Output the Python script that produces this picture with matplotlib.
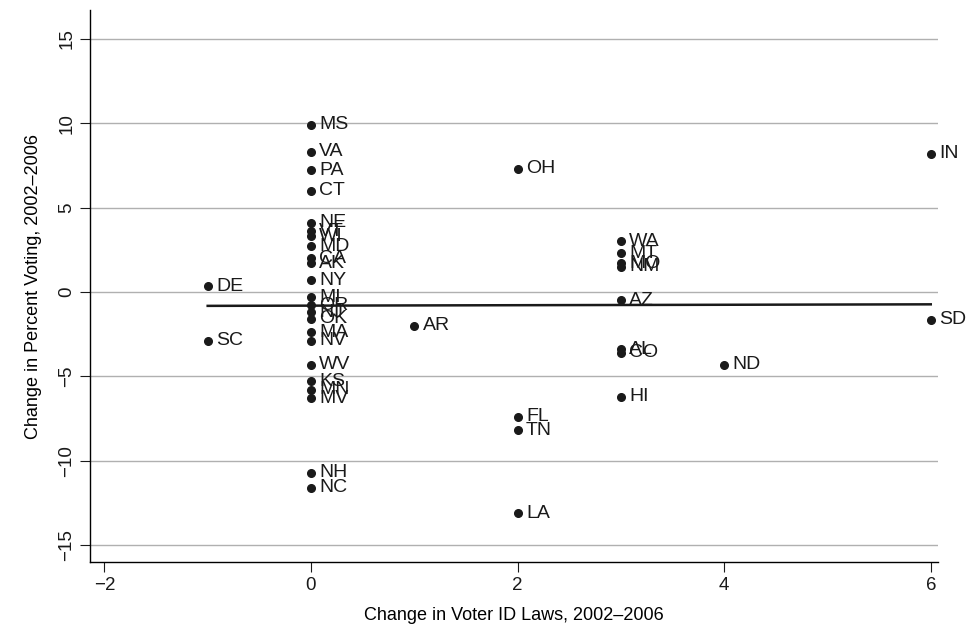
import numpy as np
import matplotlib
matplotlib.use("Agg")
import matplotlib.pyplot as plt

plt.rcParams['font.family'] = ['Liberation Sans', 'DejaVu Sans']

# change in voter ID laws / change in percent voting, 2002-2006
states = ["MS", "VA", "PA", "CT", "NE", "VT", "WI", "MD", "CA", "AK", "NY", "MI",
          "OR", "NJ", "OK", "MA", "NV", "WV", "KS", "MN", "MV", "NH", "NC",
          "WA", "MT", "MO", "NM", "AZ", "AL", "CO", "HI",
          "OH", "FL", "TN", "LA", "AR", "DE", "SC", "ND", "IN", "SD"]
id_change = [0, 0, 0, 0, 0, 0, 0, 0, 0, 0, 0, 0,
             0, 0, 0, 0, 0, 0, 0, 0, 0, 0, 0,
             3, 3, 3, 3, 3, 3, 3, 3,
             2, 2, 2, 2, 1, -1, -1, 4, 6, 6]
vote_change = [9.9, 8.3, 7.2, 6.0, 4.1, 3.6, 3.3, 2.7, 2.0, 1.7, 0.7, -0.3,
               -0.8, -1.2, -1.6, -2.4, -2.9, -4.3, -5.3, -5.8, -6.3, -10.7, -11.6,
               3.0, 2.3, 1.7, 1.5, -0.5, -3.4, -3.6, -6.2,
               7.3, -7.4, -8.2, -13.1, -2.0, 0.35, -2.9, -4.3, 8.2, -1.65]

x = np.array(id_change, dtype=float)
y = np.array(vote_change)

fig = plt.figure(figsize=(9.67, 6.35), dpi=100)
ax = fig.add_axes([0.093, 0.115, 0.877, 0.869])

ax.set_xlim(-2.14, 6.07)
ax.set_ylim(-16.0, 16.7)
ax.set_yticks([-15, -10, -5, 0, 5, 10, 15])
ax.set_xticks([-2, 0, 2, 4, 6])
ax.yaxis.grid(True, color="#b0b0b0", linewidth=1.0)
ax.set_axisbelow(True)

ax.plot(x, y, "o", color="#1a1a1a", markersize=5.5, zorder=3)
for s, xi, yi in zip(states, x, y):
    ax.annotate(s, (xi, yi), xytext=(6, 0), textcoords="offset points",
                va="center", ha="left", fontsize=14, color="#1a1a1a")

# fitted line
b, a = np.polyfit(x, y, 1)
xl = np.array([-1, 6])
ax.plot(xl, a + b * xl, color="#1a1a1a", linewidth=1.8, zorder=2)

for side in ["top", "right"]:
    ax.spines[side].set_visible(False)
ax.spines["left"].set_linewidth(1.0)
ax.spines["bottom"].set_linewidth(1.0)
ax.tick_params(axis="both", direction="out", length=7, labelsize=13.5, colors="#1a1a1a")
for lab in ax.get_yticklabels():
    lab.set_rotation(90)
    lab.set_va("center")

ax.set_xlabel("Change in Voter ID Laws, 2002\u20132006", fontsize=13, labelpad=10)
ax.set_ylabel("Change in Percent Voting, 2002\u20132006", fontsize=13, labelpad=12)

fig.savefig("out.png", dpi=100)
